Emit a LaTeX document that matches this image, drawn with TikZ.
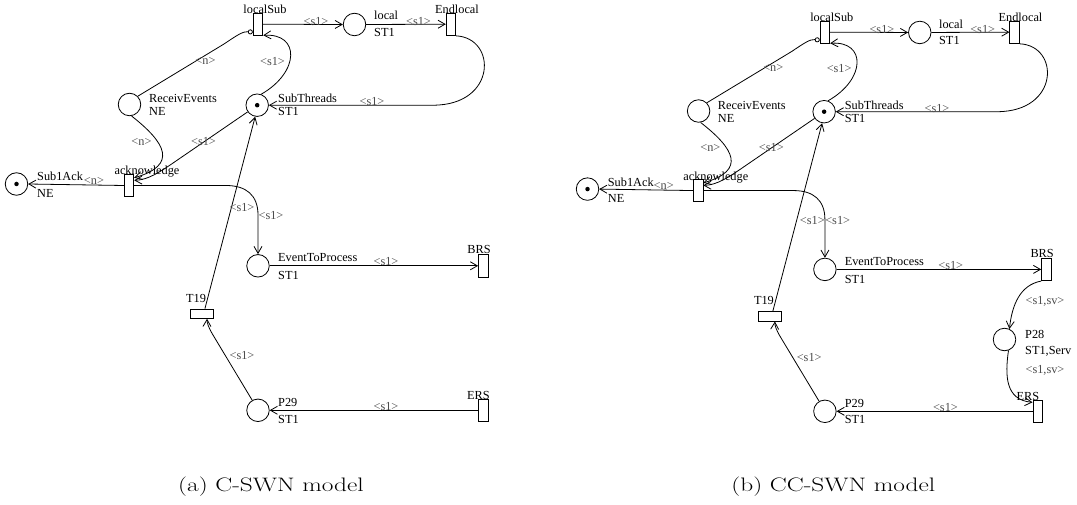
\documentclass[tikz,border=0pt]{standalone}
\usepackage{fontspec}
\usepackage{graphicx}
\newfontfamily\tnr{Liberation Serif}
\usetikzlibrary{arrows.meta,calc}
\tikzset{
  pplace/.style={circle,draw,line width=0.8pt,minimum size=22.5pt,inner sep=0pt},
  vtrans/.style={rectangle,draw,line width=0.8pt,minimum width=9.6pt,minimum height=22.5pt,inner sep=0pt},
  htrans/.style={rectangle,draw,line width=0.8pt,minimum width=22.6pt,minimum height=9.3pt,inner sep=0pt},
  ptoken/.style={circle,fill,minimum size=4.5pt,inner sep=0pt},
  nlab/.style={anchor=base west,inner sep=0pt,font=\tnr\fontsize{12.3}{14}\selectfont},
  tlab/.style={anchor=base,inner sep=0pt,font=\tnr\fontsize{12.3}{14}\selectfont},
  alab/.style={inner sep=0pt,text=black!70,font=\tnr\fontsize{12.3}{14}\selectfont},
  arcst/.style={line width=0.8pt,-{Straight Barb[length=7pt,width=8pt]}},
  inhib/.style={line width=0.8pt,-{Circle[open,length=5pt,width=5pt]}},
  captext/.style={anchor=base,inner sep=0pt,font=\fontsize{19.5}{23}\selectfont},
}
\newcommand\swnnet[4]{%
\node[pplace] (Sub1Ack) at (16.5,184) {};
\node[ptoken] (Sub1AckTok) at (16.5,184) {};
\node[nlab] (Sub1AckN) at (37,181) {Sub1Ack};
\node[nlab] (Sub1AckC) at (37,197.5) {NE};
\node[vtrans] (acknowledge) at (129,185.5) {};
\node[tlab] (acknowledgeN) at (147,175) {acknowledge};
\node[pplace] (ReceivEvents) at (129.5,104.5) {};
\node[nlab] (ReceivEventsN) at (149,102.5) {ReceivEvents};
\node[nlab] (ReceivEventsC) at (149,115.8) {NE};
\node[pplace] (SubThreads) at (257.2,105.2) {};
\node[ptoken] (SubThreadsTok) at (257.2,105.2) {};
\node[nlab] (SubThreadsN) at (278,102.5) {SubThreads};
\node[nlab] (SubThreadsC) at (278,115.8) {ST1};
\node[vtrans] (localSub) at (258,24.2) {};
\node[tlab] (localSubN) at (265,13.4) {localSub};
\node[pplace] (local) at (354.5,24.5) {};
\node[nlab] (localN) at (374,20) {local};
\node[nlab] (localC) at (374,36.4) {ST1};
\node[vtrans] (Endlocal) at (451,24.2) {};
\node[tlab] (EndlocalN) at (457,13.3) {Endlocal};
\node[pplace] (EventToProcess) at (258,265.8) {};
\node[nlab] (EventToProcessN) at (278,261.5) {EventToProcess};
\node[nlab] (EventToProcessC) at (278,279.8) {ST1};
\node[vtrans] (BRS) at (483.3,265.8) {};
\node[tlab] (BRSN) at (479,254) {BRS};
\node[htrans] (T19) at (202,313.7) {};
\node[tlab] (T19N) at (196,302) {T19};
\node[pplace] (P29) at (258,410.3) {};
\node[nlab] (P29N) at (278,406.5) {P29};
\node[nlab] (P29C) at (278,423) {ST1};
\node[vtrans] (ERS) at #1 {};
\node[tlab] (ERSN) at #2 {ERS};
% arcs
\draw[arcst] (localSub.east) -- (local.west);
\draw[arcst] (local.east) -- (Endlocal.west);
\draw[arcst] (Endlocal.south east) .. controls (497,38) and (497,105.2) .. (433,105.2) -- (SubThreads.east);
\draw[arcst] (SubThreads.70) .. controls (300,72) and (300,33) .. (localSub.-65);
\draw[inhib] (ReceivEvents.north east) -- (224,44) .. controls (236,36) and (243,31) .. (localSub.-123);
\draw[arcst] (ReceivEvents.-80) .. controls (166,143) and (178,165) .. (acknowledge.56);
\draw[arcst] (SubThreads.-145) -- (176,161) .. controls (160,172) and (148,180) .. (acknowledge.45);
\draw[arcst] (acknowledge.west) -- (Sub1Ack.east);
\draw[arcst] (acknowledge.east) -- (226,185.5) .. controls (246,185.5) and (258,195) .. (258,215) -- (EventToProcess.north);
\draw[arcst] (T19.60) -- (SubThreads.-100);
\draw[arcst] (P29.120) -- (213,335) .. controls (208.5,327.5) and (207,323) .. (T19.-45);
\draw[arcst] (ERS.west) -- (P29.east);
\draw[arcst] (EventToProcess.east) -- (BRS.west);
% arc labels
\node[alab] (lA) at (316,21.5) {<s1>};
\node[alab] (lB) at (418.5,21.5) {<s1>};
\node[alab] (lC) at (372,101.5) {<s1>};
\node[alab] (lD) at (272.5,61.5) {<s1>};
\node[alab] (lE) at (205.5,61) {<n>};
\node[alab] (lF) at (141.5,142) {<n>};
\node[alab] (lG) at (203.5,142) {<s1>};
\node[alab] (lH) at (94,181) {<n>};
\node[alab] (lI) at (271,215.5) {<s1>};
\node[alab] (lJ) at #3 {<s1>};
\node[alab] (lK) at (386,262) {<s1>};
\node[alab] (lL) at (242,355.5) {<s1>};
\node[alab] (lM) at #4 {<s1>};
}
\begin{document}
\begin{tikzpicture}[x=1pt,y=-1pt]
\useasboundingbox (0,0) rectangle (1077,505);
\begin{scope}[name prefix=L-]
\swnnet{(483.3,410.3)}{(478.5,399)}{(242,207.5)}{(386,406)}
\end{scope}
\begin{scope}[xshift=571.3pt,yshift=-8.4pt,x=0.983pt,y=-0.982pt,name prefix=R-]
\swnnet{(474.5,410.3)}{(464.6,398.8)}{(245.2,215.8)}{(380.6,406.2)}
\end{scope}
\node[pplace] (P28) at (1004.5,339.5) {};
\node[nlab] (P28N) at (1025,338) {P28};
\node[nlab] (P28C) at (1025,354.8) {ST1,Serv};
\draw[arcst] (R-BRS.south west) .. controls (1020,285) and (1012,305) .. (P28.65);
\node[alab] (P28in) at (1045,301.7) {<s1,sv>};
\draw[arcst] (P28.-70) .. controls (1005,375) and (1005,400) .. (R-ERS.120);
\node[alab] (P28out) at (1045,370.7) {<s1,sv>};
\node[captext] (capa) at (271,491.5) {\scalebox{1.3}[1]{(a) C-SWN model}};
\node[captext] (capb) at (833.3,491.5) {\scalebox{1.3}[1]{(b) CC-SWN model}};
\end{tikzpicture}
\end{document}
